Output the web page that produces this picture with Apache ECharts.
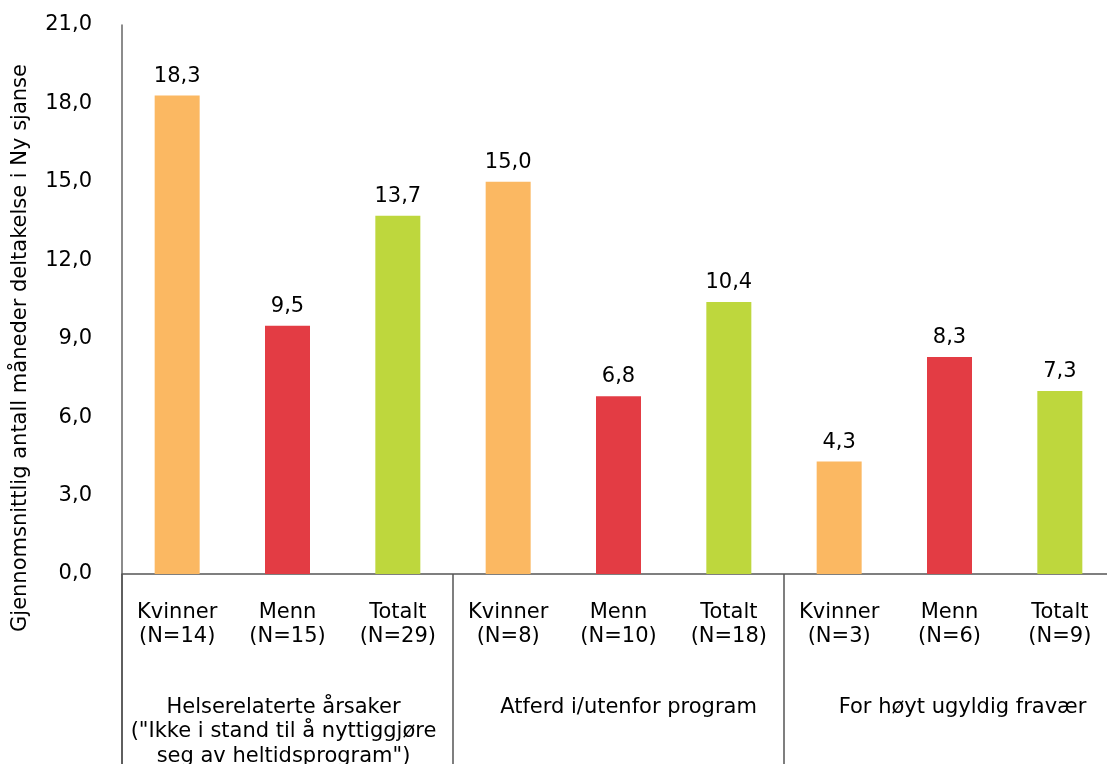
<!DOCTYPE html>
<html>
<head>
<meta charset="utf-8">
<script src="https://cdn.jsdelivr.net/npm/echarts@6/dist/echarts.min.js"></script>
<style>
html,body{margin:0;padding:0;background:#fff;overflow:hidden;}
#chart{width:1107px;height:764px;}
</style>
</head>
<body>
<div id="chart"></div>
<script>
const categories = ["Kvinner\n(N=14)", "Menn\n(N=15)", "Totalt\n(N=29)",
                    "Kvinner\n(N=8)", "Menn\n(N=10)", "Totalt\n(N=18)",
                    "Kvinner\n(N=3)", "Menn\n(N=6)", "Totalt\n(N=9)"];
const groups = ["Helserelaterte årsaker\n(\"Ikke i stand til å nyttiggjøre\nseg av heltidsprogram\")",
                "Atferd i/utenfor program",
                "For høyt ugyldig fravær"];
const values = [18.3, 9.5, 13.7, 15.0, 6.8, 10.4, 4.3, 8.3, 7.0];
const valueLabels = ["18,3", "9,5", "13,7", "15,0", "6,8", "10,4", "4,3", "8,3", "7,3"];
const yTicks = { min: 0, max: 21, interval: 3 };
const yTitle = "Gjennomsnittlig antall måneder deltakelse i Ny sjanse";

const colors = ["#FBB862", "#E33C44", "#BED73D"];
const font = "'DejaVu Sans', Verdana, sans-serif";
const fs = 21;

const chart = echarts.init(document.getElementById('chart'));
chart.setOption({
  animation: false,
  backgroundColor: '#fff',
  grid: { left: 122, right: -8, top: 25, bottom: 190, containLabel: false, outerBoundsMode: 'none' },
  xAxis: [{
    type: 'category',
    data: categories,
    position: 'bottom',
    axisLine: { show: true, lineStyle: { color: '#555', width: 1.5 } },
    axisTick: { show: false },
    axisLabel: { interval: 0, margin: 26, color: '#000', fontFamily: font, fontSize: fs, lineHeight: 24.5, align: 'center', hideOverlap: false }
  }, {
    type: 'category',
    data: groups.map((g, i) => ({ value: g, textStyle: { padding: [0, [8, 0, 0][i], 0, [0, 20, 26][i]] } })),
    position: 'bottom',
    axisLine: { show: false },
    axisTick: { show: true, inside: false, length: 190, lineStyle: { color: '#555', width: 1.5 } },
    axisLabel: { interval: 0, margin: 121, color: '#000', fontFamily: font, fontSize: fs, lineHeight: 24.5, verticalAlign: 'top', align: 'center', hideOverlap: false }
  }],
  yAxis: {
    type: 'value',
    min: yTicks.min, max: yTicks.max, interval: yTicks.interval,
    axisLine: { show: true, lineStyle: { color: '#666', width: 1.5 } },
    axisTick: { show: false },
    splitLine: { show: false },
    axisLabel: { margin: 30, color: '#000', fontFamily: font, fontSize: fs,
      formatter: v => v.toFixed(1).replace('.', ',') }
  },
  series: [{
    type: 'bar',
    xAxisIndex: 0,
    data: values.map((v, i) => ({ value: v, itemStyle: { color: colors[i % 3] } })),
    barWidth: 45,
    label: { show: true, position: 'top', distance: 9, color: '#000', fontFamily: font, fontSize: fs,
      formatter: p => valueLabels[p.dataIndex] }
  }],
  graphic: [{
    type: 'line',
    shape: { x1: 122, y1: 574, x2: 122, y2: 764 },
    style: { stroke: '#555', lineWidth: 1.5 }
  }, {
    type: 'text',
    x: 21, y: 348,
    rotation: Math.PI / 2,
    style: { text: yTitle, fill: '#000', font: fs + "px 'DejaVu Sans', Verdana, sans-serif", align: 'center', verticalAlign: 'middle' }
  }]
});
</script>
</body>
</html>
